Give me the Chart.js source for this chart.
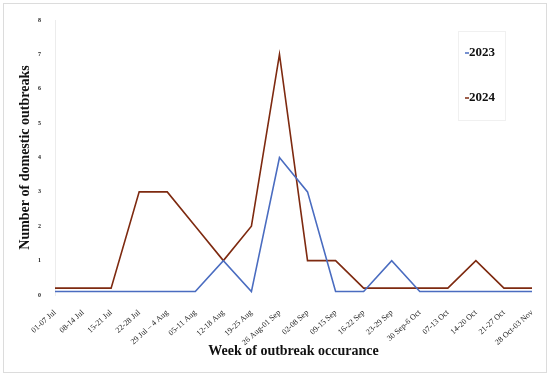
<!DOCTYPE html>
<html>
<head>
<meta charset="utf-8">
<script src="https://cdn.jsdelivr.net/npm/chart.js@4.4.0/dist/chart.umd.min.js"></script>
<style>
  html, body { margin: 0; padding: 0; background: #fff; }
  #wrap { width: 550px; height: 379px; }
</style>
</head>
<body>
<div id="wrap"><canvas id="grafico" width="550" height="379"></canvas></div>
<script>
// semanas del brote (eje x)
var semanas = ['01-07 Jul', '08-14 Jul', '15-21 Jul', '22-28 Jul', '29 Jul – 4 Aug', '05-11 Aug',
    '12-18 Aug', '19-25 Aug', '26 Aug-01 Sep', '02-08 Sep', '09-15 Sep', '16-22 Sep',
    '23-29 Sep', '30 Sep-6 Oct', '07-13 Oct', '14-20 Oct', '21-27 Oct', '28 Oct-03 Nov'];

// brotes por semana (los ceros aparecen levemente desplazados en la figura)
var brotes2023 = [0.1, 0.1, 0.1, 0.1, 0.1, 0.1, 1, 0.1, 4, 3, 0.1, 0.1, 1, 0.1, 0.1, 0.1, 0.1, 0.1];
var brotes2024 = [0.2, 0.2, 0.2, 3, 3, 2, 1, 2, 7, 1, 1, 0.2, 0.2, 0.2, 0.2, 1, 0.2, 0.2];

var yTicks = [0, 1, 2, 3, 4, 5, 6, 7, 8];

var serif = "'Liberation Serif', 'DejaVu Serif', serif";

// marco exterior gris claro
var marco = {
    id: 'marco',
    afterDraw: function (chart) {
        var c = chart.ctx;
        c.save();
        c.strokeStyle = '#dcdcdc';
        c.lineWidth = 1;
        c.strokeRect(3.5, 3.5, 543, 369);
        c.restore();
    }
};

// leyenda dentro del area del grafico
var leyenda = {
    id: 'leyenda',
    afterDraw: function (chart) {
        var c = chart.ctx;
        c.save();
        c.strokeStyle = '#f0f0f0';
        c.lineWidth = 1;
        c.strokeRect(458.5, 31.5, 47, 89);
        var ys = [53, 98];
        chart.data.datasets.forEach(function (ds, i) {
            c.strokeStyle = ds.borderColor;
            c.lineWidth = 1.5;
            c.beginPath();
            c.moveTo(465, ys[i]);
            c.lineTo(469, ys[i]);
            c.stroke();
            c.fillStyle = '#111';
            c.font = "bold 13px " + serif;
            c.textBaseline = 'middle';
            c.fillText(ds.label, 469, ys[i]);
        });
        c.restore();
    }
};

new Chart(document.getElementById('grafico').getContext('2d'), {
    type: 'line',
    data: {
        labels: semanas,
        datasets: [{
            label: '2023',
            data: brotes2023,
            borderColor: '#4a6cc0',
            borderWidth: 1.6,
            pointRadius: 0,
            tension: 0,
            fill: false
        }, {
            label: '2024',
            data: brotes2024,
            borderColor: '#7e2a10',
            borderWidth: 1.6,
            pointRadius: 0,
            tension: 0,
            fill: false
        }]
    },
    options: {
        responsive: false,
        animation: false,
        layout: { padding: { left: 12, right: 18, top: 20, bottom: 10 } },
        plugins: {
            legend: { display: false },
            tooltip: { enabled: false }
        },
        scales: {
            x: {
                offset: false,
                grid: { display: false },
                border: { display: false },
                ticks: {
                    autoSkip: false,
                    maxRotation: 42,
                    minRotation: 42,
                    color: '#222',
                    font: { family: serif, size: 8 },
                    padding: 5
                },
                title: {
                    display: true,
                    text: 'Week of outbreak occurance',
                    color: '#111',
                    font: { family: serif, size: 14, weight: 'bold' },
                    padding: { top: 0, bottom: 9 }
                },
                afterFit: function (scale) { scale.height = 74; }
            },
            y: {
                min: 0,
                max: 8,
                grid: { display: false },
                border: { display: true, color: '#ececec' },
                afterBuildTicks: function (scale) {
                    scale.ticks = yTicks.map(function (v) { return { value: v }; });
                },
                ticks: {
                    color: '#222',
                    font: { family: serif, size: 6, weight: 'bold' },
                    padding: 6
                },
                title: {
                    display: true,
                    text: 'Number of domestic outbreaks',
                    color: '#111',
                    font: { family: serif, size: 14, weight: 'bold' },
                    padding: { top: 5, bottom: 0 }
                },
                afterFit: function (scale) { scale.width = 43; }
            }
        }
    },
    plugins: [marco, leyenda]
});
</script>
</body>
</html>
